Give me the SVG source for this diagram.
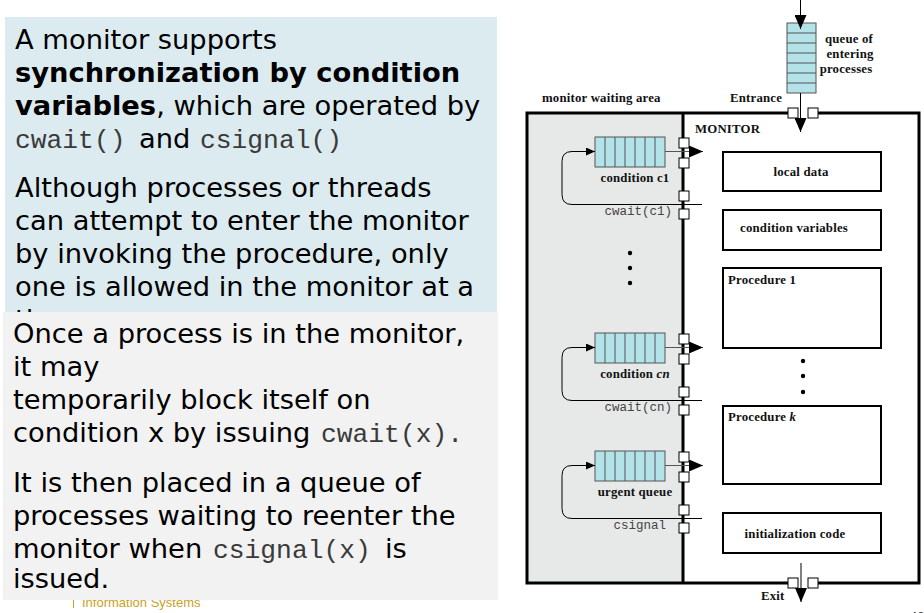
<svg xmlns="http://www.w3.org/2000/svg" width="924" height="613" viewBox="0 0 924 613">
  <style>
    .body { font-family: "DejaVu Sans", Verdana, sans-serif; font-size: 27.3px; fill: #000; }
    .b { font-weight: bold; }
    .code { font-family: "Liberation Mono", "Courier New", monospace; font-size: 26.3px; fill: #3a3a3a; }
    .lbl { font-family: "Liberation Serif", "Times New Roman", serif; font-weight: bold; font-size: 12.8px; letter-spacing: 0.2px; fill: #111; }
    .mono { font-family: "Liberation Mono", "Courier New", monospace; font-size: 12.5px; fill: #444; }
    .box { fill: #fff; stroke: #000; stroke-width: 2; }
    .wall { stroke: #000; stroke-width: 3; fill: none; }
    .sq { fill: #fff; stroke: #000; stroke-width: 1; }
    .q { fill: #b3e2e8; stroke: #555; stroke-width: 1; }
    .qline { stroke: #555; stroke-width: 1; }
    .flow { stroke: #555; stroke-width: 1; fill: none; }
    .flowk { stroke: #000; stroke-width: 1; fill: none; }
  </style>
  <defs>
    <marker id="bigHead" viewBox="0 0 14 12" refX="14" refY="6" markerWidth="14" markerHeight="12" markerUnits="userSpaceOnUse" orient="auto">
      <path d="M0,0 L14,6 L0,12 z" fill="#000"/>
    </marker>
    <marker id="smallHead" viewBox="0 0 9 8" refX="9" refY="4" markerWidth="9" markerHeight="8" markerUnits="userSpaceOnUse" orient="auto">
      <path d="M0,0 L9,4 L0,8 z" fill="#000"/>
    </marker>
    <!-- horizontal waiting queue: 7 cells -->
    <g id="hQueue">
      <rect class="q" x="0" y="0" width="70" height="30"/>
      <path class="qline" d="M10,0V30M20,0V30M30,0V30M40,0V30M50,0V30M60,0V30"/>
    </g>
    <!-- four gate squares on the waiting-area wall -->
    <g id="gates">
      <rect class="sq" x="-5" y="1" width="10" height="10"/>
      <rect class="sq" x="-5" y="21" width="10" height="10"/>
      <rect class="sq" x="-5" y="54" width="10" height="10"/>
      <rect class="sq" x="-5" y="72" width="10" height="10"/>
    </g>
    <clipPath id="topPanelClip">
      <rect x="5" y="17" width="492" height="296"/>
    </clipPath>
  </defs>

  <!-- text panels -->
  <g id="panelTop">
    <rect x="5" y="17" width="492" height="296" fill="#dcebef"/>
    <text class="body" x="15" y="49">A monitor supports</text>
    <text class="body b" x="15" y="82">synchronization by condition</text>
    <text class="body" x="15" y="115"><tspan class="b">variables</tspan>, which are operated by</text>
    <text class="code" x="15" y="148">cwait()</text>
    <text class="body" x="139" y="148">and</text>
    <text class="code" x="200" y="148">csignal()</text>
    <text class="body" x="15" y="197">Although processes or threads</text>
    <text class="body" x="15" y="230">can attempt to enter the monitor</text>
    <text class="body" x="15" y="263">by invoking the procedure, only</text>
    <text class="body" x="15" y="296">one is allowed in the monitor at a</text>
    <text class="body" x="15" y="329" clip-path="url(#topPanelClip)">time.</text>
  </g>

  <!-- footer -->
  <g id="footer">
    <line x1="73.5" y1="598" x2="73.5" y2="608" stroke="#c9a227" stroke-width="1"/>
    <text x="82" y="607" font-family="Liberation Sans, Arial, sans-serif" font-size="13" fill="#c9a227">Information Systems</text>
    <text x="910" y="621" font-family="Liberation Sans, Arial, sans-serif" font-size="13" fill="#334">48</text>
  </g>

  <g id="panelBottom">
    <rect x="3" y="312" width="495" height="288" fill="#f2f2f2"/>
    <text class="body" x="13" y="343">Once a process is in the monitor,</text>
    <text class="body" x="13" y="376">it may</text>
    <text class="body" x="13" y="409">temporarily block itself on</text>
    <text class="body" x="13" y="442">condition x by issuing</text>
    <text class="code" x="321" y="442">cwait(x).</text>
    <text class="body" x="13" y="492">It is then placed in a queue of</text>
    <text class="body" x="13" y="525">processes waiting to reenter the</text>
    <text class="body" x="13" y="558">monitor when</text>
    <text class="code" x="213" y="558">csignal(x)</text>
    <text class="body" x="385" y="558">is</text>
    <text class="body" x="13" y="588">issued.</text>
  </g>

  <!-- monitor diagram -->
  <g id="waitingArea">
    <rect x="527" y="113" width="156" height="470" fill="#e7e8e8"/>
    <text class="lbl" x="542" y="102">monitor waiting area</text>
  </g>

  <g id="monitor">
    <path class="wall" d="M788,113H527V583H788M818,583H919V113H818"/>
    <!-- wall between waiting area and monitor, broken at the gates -->
    <path class="wall" d="M683,113V139M683,147V159M683,167V192M683,200V209M683,217V335M683,343V355M683,363V388M683,396V406M683,414V453M683,461V472M683,480V506M683,514V524M683,532V583"/>
    <text class="lbl" x="695" y="133">MONITOR</text>
    <rect class="sq" x="788" y="108" width="10" height="10"/>
    <rect class="sq" x="808" y="108" width="10" height="10"/>
    <rect class="sq" x="788" y="578" width="10" height="10"/>
    <rect class="sq" x="808" y="578" width="10" height="10"/>
    <text class="lbl" x="730" y="102">Entrance</text>
    <text class="lbl" x="761" y="600">Exit</text>
  </g>

  <g id="entryQueue">
    <rect class="q" x="787" y="23" width="29" height="70"/>
    <path class="qline" d="M787,33H816M787,43H816M787,53H816M787,63H816M787,73H816M787,83H816"/>
    <text class="lbl" text-anchor="middle" x="849" y="43">queue of</text>
    <text class="lbl" text-anchor="middle" x="850" y="58">entering</text>
    <text class="lbl" text-anchor="middle" x="846" y="73">processes</text>
  </g>

  <g id="conditionC1">
    <use href="#hQueue" x="595" y="137"/>
    <use href="#gates" x="684" y="137"/>
    <text class="lbl" text-anchor="middle" x="635" y="182">condition c1</text>
    <text class="mono" text-anchor="end" x="672" y="215">cwait(c1)</text>
  </g>

  <g id="waitDots">
    <circle cx="630" cy="253" r="2.2"/>
    <circle cx="630" cy="268" r="2.2"/>
    <circle cx="630" cy="283" r="2.2"/>
  </g>

  <g id="conditionCn">
    <use href="#hQueue" x="595" y="333"/>
    <use href="#gates" x="684" y="333"/>
    <text class="lbl" text-anchor="middle" x="635" y="378">condition <tspan font-style="italic">cn</tspan></text>
    <text class="mono" text-anchor="end" x="672" y="411">cwait(cn)</text>
  </g>

  <g id="urgentQueue">
    <use href="#hQueue" x="595" y="451"/>
    <use href="#gates" x="684" y="451"/>
    <text class="lbl" text-anchor="middle" x="635" y="496">urgent queue</text>
    <text class="mono" text-anchor="end" x="666" y="529">csignal</text>
  </g>

  <g id="localData">
    <rect class="box" x="723" y="152" width="158" height="39"/>
    <text class="lbl" text-anchor="middle" x="801" y="176">local data</text>
  </g>
  <g id="conditionVariables">
    <rect class="box" x="723" y="210" width="158" height="40"/>
    <text class="lbl" text-anchor="middle" x="794" y="232">condition variables</text>
  </g>
  <g id="procedure1">
    <rect class="box" x="723" y="268" width="158" height="80"/>
    <text class="lbl" x="728" y="284">Procedure 1</text>
  </g>
  <g id="procDots">
    <circle cx="803" cy="361" r="2.2"/>
    <circle cx="803" cy="376" r="2.2"/>
    <circle cx="803" cy="392" r="2.2"/>
  </g>
  <g id="procedureK">
    <rect class="box" x="723" y="406" width="158" height="78"/>
    <text class="lbl" x="728" y="421">Procedure <tspan font-style="italic">k</tspan></text>
  </g>
  <g id="initCode">
    <rect class="box" x="723" y="513" width="158" height="40"/>
    <text class="lbl" text-anchor="middle" x="795" y="538">initialization code</text>
  </g>

  <g id="connectors">
    <!-- entering and leaving the monitor -->
    <line class="flowk" x1="800.5" y1="0" x2="800.5" y2="29" marker-end="url(#bigHead)"/>
    <line class="flowk" x1="800.5" y1="93" x2="800.5" y2="132" marker-end="url(#bigHead)"/>
    <line class="flowk" x1="801" y1="563" x2="801" y2="602" marker-end="url(#bigHead)"/>
    <!-- queue heads re-entering the monitor -->
    <line class="flow" x1="665" y1="151.5" x2="703" y2="151.5" marker-end="url(#bigHead)"/>
    <line class="flow" x1="665" y1="347.5" x2="703" y2="347.5" marker-end="url(#bigHead)"/>
    <line class="flow" x1="665" y1="465.5" x2="703" y2="465.5" marker-end="url(#bigHead)"/>
    <!-- wait / signal loops back into the queues -->
    <path class="flowk" d="M702,204.5H572Q562,204.5 562,194.5V161.5Q562,151.5 572,151.5H595" marker-end="url(#smallHead)"/>
    <path class="flowk" d="M702,400.5H572Q562,400.5 562,390.5V357.5Q562,347.5 572,347.5H595" marker-end="url(#smallHead)"/>
    <path class="flowk" d="M702,518.5H572Q562,518.5 562,508.5V475.5Q562,465.5 572,465.5H595" marker-end="url(#smallHead)"/>
  </g>
</svg>
